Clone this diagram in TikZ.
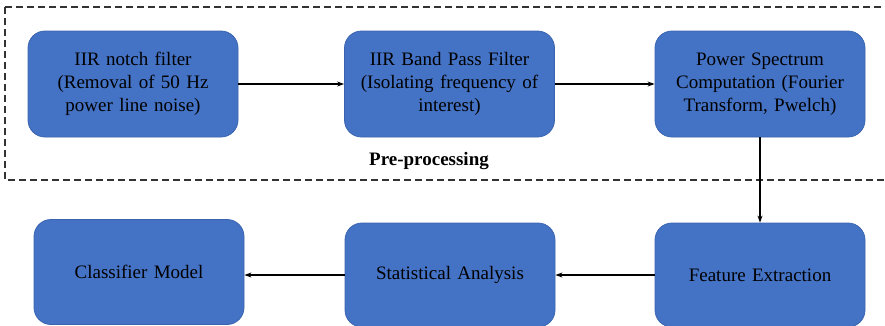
\documentclass[tikz,border=0pt]{standalone}
\usepackage{fontspec}
\setmainfont{Liberation Serif}
\usetikzlibrary{arrows.meta}
\definecolor{boxblue}{HTML}{4472C4}
\definecolor{boxedge}{HTML}{3A64B0}
\begin{document}
\begin{tikzpicture}[x=1pt,y=-1pt,
  block/.style={draw=boxedge, line width=0.8pt, fill=boxblue, rounded corners=17pt,
    minimum width=210pt, text width=200pt, align=center, inner sep=0pt,
    font=\fontsize{19pt}{23pt}\selectfont, text=black},
  conn/.style={draw=black, line width=1.1pt, -{Stealth[length=7pt,width=5pt]}}]
\useasboundingbox (0,0) rectangle (885,325);
\draw[black!80, line width=1.1pt, dash pattern=on 7pt off 4pt] (5,7) -- (890,7) (5,7) -- (5,180) -- (890,180);
\node[block, minimum height=106pt] (n1) at (133,84) {IIR notch filter\\(Removal of 50 Hz\\power line noise)};
\node[block, minimum height=106pt] (n2) at (449.5,84) {IIR Band Pass Filter\\(Isolating frequency of\\interest)};
\node[block, minimum height=106pt] (n3) at (760,84) {Power Spectrum\\Computation (Fourier\\Transform, Pwelch)};
\node[block, minimum height=104pt] (n4) at (760,275) {Feature Extraction};
\node[block, minimum height=104pt] (n5) at (450,275) {Statistical Analysis};
\node[block, minimum height=105pt] (n6) at (139,272) {Classifier Model};
\node[font=\bfseries\fontsize{19pt}{23pt}\selectfont, anchor=center] (lbl) at (429,161) {Pre-processing};
\draw[conn] (n1) -- (n2);
\draw[conn] (n2) -- (n3);
\draw[conn] (n3) -- (n4);
\draw[conn] (n4) -- (n5);
\draw[conn] (n5.west) -- (n6.east |- n5.west);
\end{tikzpicture}
\end{document}
